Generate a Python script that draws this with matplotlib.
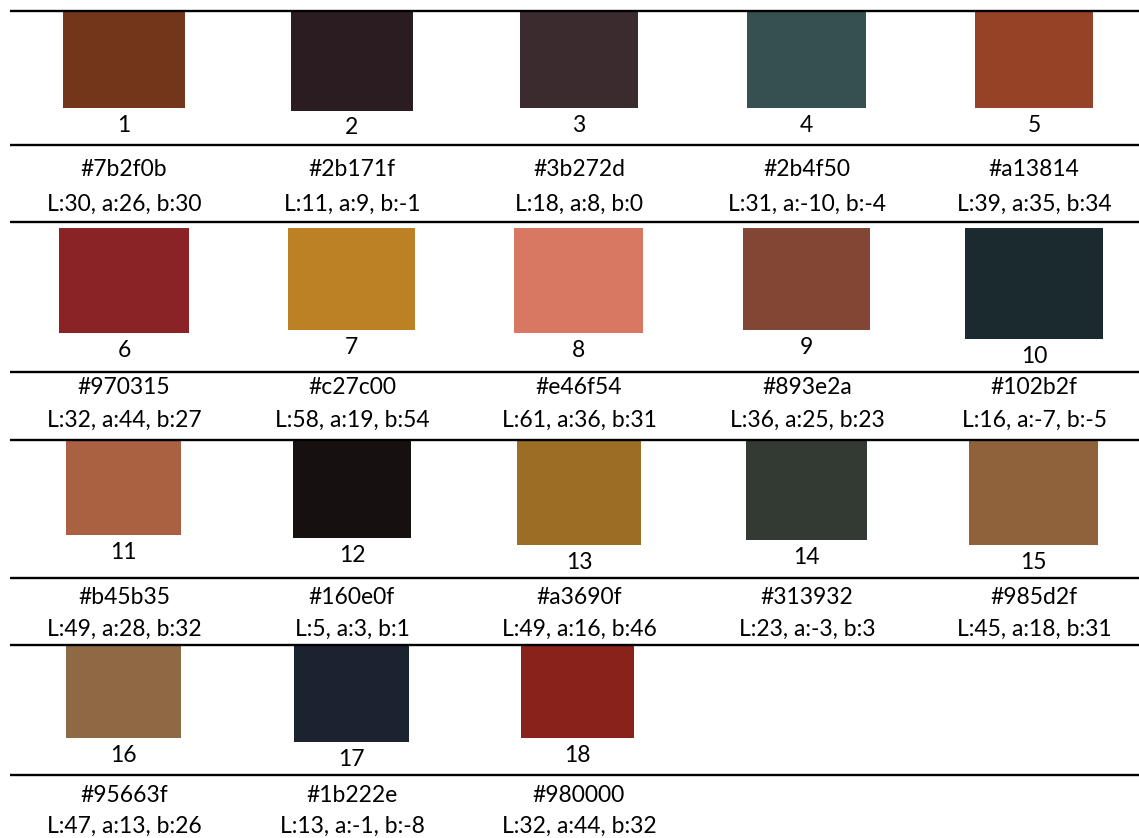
import matplotlib
matplotlib.use("Agg")
import matplotlib.pyplot as plt
from matplotlib.patches import Rectangle

# ---- data ----
numbers = list(range(1, 19))
hex_codes = ["#7b2f0b", "#2b171f", "#3b272d", "#2b4f50", "#a13814",
             "#970315", "#c27c00", "#e46f54", "#893e2a", "#102b2f",
             "#b45b35", "#160e0f", "#a3690f", "#313932", "#985d2f",
             "#95663f", "#1b222e", "#980000"]
lab_L = [30, 11, 18, 31, 39, 32, 58, 61, 36, 16, 49, 5, 49, 23, 45, 47, 13, 32]
lab_a = [26, 9, 8, -10, 35, 44, 19, 36, 25, -7, 28, 3, 16, -3, 18, 13, -1, 44]
lab_b = [30, -1, 0, -4, 34, 27, 54, 31, 23, -5, 32, 1, 46, 3, 31, 26, -8, 32]
# colours as rendered in the reference swatches
display_colors = ["#74361a", "#2a1c20", "#3c2b2e", "#364f4f", "#954227",
                  "#8a2326", "#bc8124", "#d87862", "#834634", "#1a2a2e",
                  "#a96142", "#161010", "#9c6d25", "#333a33", "#90623b",
                  "#8f6844", "#1c2330", "#8a221c"]

# ---- layout (pixels) ----
W, H = 1139, 838
col_centers = [124, 352, 579, 807, 1034]
# swatch boxes: (left, top, right, bottom)
boxes = [(63, 11, 185, 108), (291, 11, 413, 111), (520, 11, 638, 108),
         (747, 11, 866, 108), (975, 11, 1093, 108),
         (59, 228, 189, 333), (288, 228, 415, 330), (514, 228, 643, 333),
         (743, 228, 870, 330), (965, 228, 1103, 339),
         (66, 441, 181, 535), (293, 441, 411, 538), (517, 441, 641, 545),
         (746, 441, 867, 540), (969, 441, 1098, 545),
         (66, 646, 181, 738), (294, 646, 409, 742), (521, 646, 634, 738)]
hlines = [11, 145, 222, 372, 440, 578, 645, 775]
hex_y = [170, 387, 597, 795]
lab_y = [204, 420, 629, 826]

plt.rcParams['font.family'] = ['Lato', 'DejaVu Sans']
fig = plt.figure(figsize=(W / 100, H / 100), dpi=100)
ax = fig.add_axes([0, 0, 1, 1])
ax.set_xlim(0, W)
ax.set_ylim(H, 0)
ax.axis('off')

for y in hlines:
    ax.plot([10, W], [y, y], color='black', lw=1.7, solid_capstyle='butt')

fs = 16.5
for i, n in enumerate(numbers):
    r, c = divmod(i, 5)
    l, t, rr, b = boxes[i]
    ax.add_patch(Rectangle((l, t), rr - l, b - t, facecolor=display_colors[i],
                           edgecolor='none'))
    ax.text((l + rr) / 2, b + 17, str(n), ha='center', va='center', fontsize=fs)
    cx = col_centers[c]
    ax.text(cx, hex_y[r], hex_codes[i], ha='center', va='center', fontsize=fs)
    ax.text(cx, lab_y[r], f"L:{lab_L[i]}, a:{lab_a[i]}, b:{lab_b[i]}",
            ha='center', va='center', fontsize=fs)

fig.savefig("out.png", dpi=100)
